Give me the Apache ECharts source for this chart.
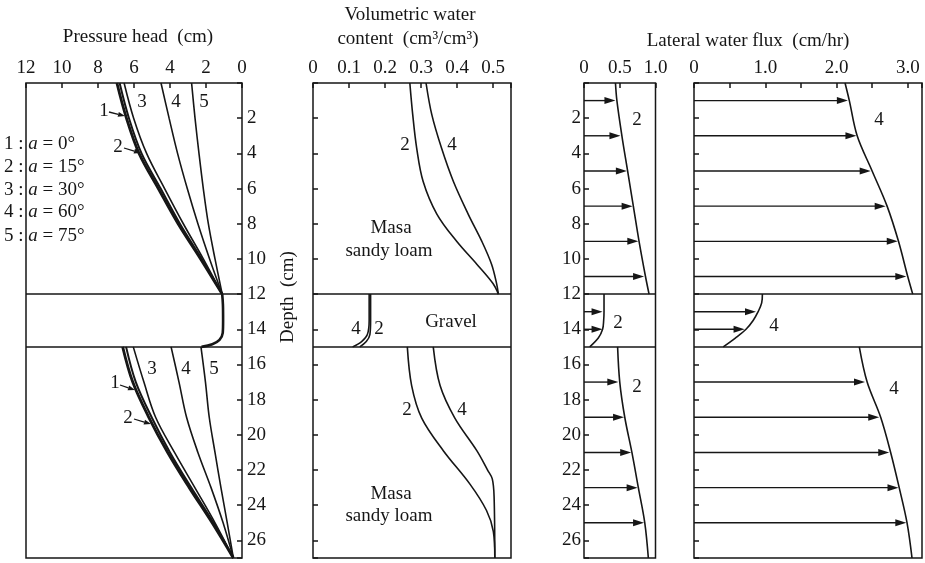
<!DOCTYPE html>
<html>
<head>
<meta charset="utf-8">
<script src="https://cdn.jsdelivr.net/npm/echarts@6/dist/echarts.min.js"></script>
<style>
html, body { margin: 0; background: #fff; }
#chart { width: 925px; height: 563px; }
</style>
</head>
<body>
<div id="chart"></div>
<script>
// pressure head (cm), curves 1..5, read at these depths (cm)
var headDepthTop = [0, 2, 4, 6, 8, 10, 12];
var headTop = [
    [6.95, 6.42, 5.72, 4.65, 3.55, 2.3, 1.1],
    [6.8, 6.28, 5.58, 4.52, 3.45, 2.24, 1.1],
    [6.55, 6.02, 5.3, 4.3, 3.26, 2.15, 1.1],
    [4.5, 4.05, 3.58, 3.04, 2.45, 1.8, 1.1],
    [2.8, 2.61, 2.39, 2.15, 1.87, 1.5, 1.1]
];
var headDepthGravel = [12, 12.6, 13.5, 14.2, 14.6, 14.85, 15];
var headGravel = [1.1, 1.06, 1.05, 1.07, 1.25, 1.65, 2.25];
var headDepthBottom = [15, 17, 19, 21, 23, 25, 27];
var headBottom = [
    [6.63, 6.07, 5.18, 4.13, 2.93, 1.66, 0.48],
    [6.44, 5.9, 5.02, 4.0, 2.82, 1.58, 0.48],
    [6.04, 5.45, 4.8, 3.75, 2.62, 1.5, 0.48],
    [3.94, 3.5, 3.08, 2.45, 1.72, 1.05, 0.48],
    [2.28, 2.03, 1.82, 1.5, 1.17, 0.82, 0.48]
];

// volumetric water content, curves 2 and 4
var thetaDepthTop = [0, 1.8, 3.7, 5.6, 7.45, 9.0, 10.3, 11.4, 12];
var theta2Top = [0.269, 0.277, 0.288, 0.306, 0.344, 0.399, 0.455, 0.5, 0.515];
var theta4Top = [0.314, 0.33, 0.357, 0.39, 0.431, 0.469, 0.496, 0.51, 0.515];
var thetaDepthGravel = [12, 13.5, 14.3, 14.7, 15];
var theta2Gravel = [0.16, 0.16, 0.158, 0.148, 0.13];
var theta4Gravel = [0.156, 0.156, 0.151, 0.135, 0.11];
var theta2DepthBottom = [15, 17.2, 19.05, 20.9, 22.8, 24.3, 25.5, 27];
var theta2Bottom = [0.262, 0.274, 0.302, 0.362, 0.436, 0.482, 0.501, 0.505];
var theta4DepthBottom = [15, 17.2, 19.05, 20.9, 22.0, 22.5, 23.5, 27];
var theta4Bottom = [0.334, 0.353, 0.394, 0.455, 0.485, 0.498, 0.503, 0.505];

// lateral water flux (cm/hr), curves 2 and 4
var fluxDepthTop = [0, 1, 3, 5, 7, 9, 11, 12];
var flux2Top = [0.44, 0.46, 0.53, 0.61, 0.69, 0.77, 0.86, 0.91];
var flux4Top = [2.12, 2.18, 2.29, 2.5, 2.71, 2.87, 3.0, 3.07];
var fluxDepthGravel = [12, 12.5, 13, 13.5, 14, 14.5, 15];
var flux2Gravel = [0.28, 0.28, 0.28, 0.275, 0.26, 0.2, 0.08];
var flux4Gravel = [0.96, 0.95, 0.9, 0.83, 0.73, 0.58, 0.41];
var fluxDepthBottom = [15, 17, 19, 21, 23, 25, 27];
var flux2Bottom = [0.47, 0.5, 0.57, 0.67, 0.76, 0.85, 0.9];
var flux4Bottom = [2.32, 2.43, 2.62, 2.76, 2.88, 2.99, 3.06];

// flux arrows
var arrowDepths = [1, 3, 5, 7, 9, 11, 13, 14, 17, 19, 21, 23, 25];
var arrow2 = [0.44, 0.51, 0.6, 0.68, 0.76, 0.84, 0.26, 0.26, 0.48, 0.56, 0.66, 0.75, 0.84];
var arrow4 = [2.16, 2.28, 2.48, 2.69, 2.86, 2.98, 0.87, 0.71, 2.4, 2.6, 2.74, 2.87, 2.98];

var ink = '#161616';
var serif = '"Liberation Serif", "DejaVu Serif", serif';

var chart = echarts.init(document.getElementById('chart'));

function pairs(depths, values) {
    return depths.map(function (d, i) { return [values[i], d]; });
}

function curve(g, depths, values, width) {
    return {
        type: 'line',
        xAxisIndex: g,
        yAxisIndex: g,
        data: pairs(depths, values),
        symbol: 'none',
        smooth: 0.35,
        lineStyle: { color: ink, width: width || 1.6 },
        silent: true,
        animation: false
    };
}

// horizontal lines of the gravel layer
function layers(g) {
    return {
        type: 'line',
        xAxisIndex: g,
        yAxisIndex: g,
        data: [],
        markLine: {
            silent: true,
            animation: false,
            symbol: 'none',
            label: { show: false },
            lineStyle: { color: ink, width: 1.5, type: 'solid' },
            data: [{ yAxis: 12 }, { yAxis: 15 }]
        }
    };
}

function arrows(g, depths, values) {
    return {
        type: 'custom',
        xAxisIndex: g,
        yAxisIndex: g,
        silent: true,
        animation: false,
        data: pairs(depths, values),
        renderItem: function (params, api) {
            var a = api.coord([0, api.value(1)]);
            var b = api.coord([api.value(0), api.value(1)]);
            return {
                type: 'group',
                children: [
                    { type: 'line', shape: { x1: a[0], y1: a[1], x2: b[0] - 8, y2: b[1] }, style: { stroke: ink, lineWidth: 1.4 } },
                    { type: 'polygon', shape: { points: [[b[0], b[1]], [b[0] - 11, b[1] - 3.5], [b[0] - 11, b[1] + 3.5]] }, style: { fill: ink } }
                ]
            };
        }
    };
}

function xAxis(g, max, interval, fmt, inverse) {
    return {
        gridIndex: g,
        type: 'value',
        position: 'top',
        min: 0,
        max: max,
        interval: interval,
        inverse: !!inverse,
        axisLine: { show: false },
        axisTick: { inside: true, length: 5, lineStyle: { color: ink, width: 1.5 } },
        axisLabel: { formatter: fmt, margin: 5, color: ink, fontFamily: serif, fontSize: 19 },
        splitLine: { show: false }
    };
}

function depthLabel(v) {
    return (v > 0 && v % 2 === 0) ? String(v) : '';
}

function yAxis(g, position, showLabel) {
    return {
        gridIndex: g,
        type: 'value',
        position: position,
        min: 0,
        max: 27,
        interval: 2,
        inverse: true,
        axisLine: { show: false },
        axisTick: { inside: true, length: 5, lineStyle: { color: ink, width: 1.5 } },
        axisLabel: { show: showLabel, formatter: depthLabel, margin: position === 'right' ? 5 : 3, color: ink, fontFamily: serif, fontSize: 19 },
        splitLine: { show: false }
    };
}

function txt(x, y, s, size, align) {
    return {
        type: 'text', x: x, y: y, silent: true,
        style: {
            text: s, fill: ink, font: (size || 18) + 'px ' + serif,
            align: align || 'center', verticalAlign: 'middle'
        }
    };
}

function pointer(x1, y1, x2, y2) {
    var ang = Math.atan2(y2 - y1, x2 - x1);
    var L = 7, W = 2.5;
    var bx = x2 - L * Math.cos(ang), by = y2 - L * Math.sin(ang);
    return [
        { type: 'line', silent: true, shape: { x1: x1, y1: y1, x2: bx, y2: by }, style: { stroke: ink, lineWidth: 1.3 } },
        { type: 'polygon', silent: true, shape: { points: [[x2, y2], [bx - W * Math.sin(ang), by + W * Math.cos(ang)], [bx + W * Math.sin(ang), by - W * Math.cos(ang)]] }, style: { fill: ink } }
    ];
}

var legendRows = ['1 : {i|a} = 0°', '2 : {i|a} = 15°', '3 : {i|a} = 30°', '4 : {i|a} = 60°', '5 : {i|a} = 75°'];

var series = [];
var widths = [2.8, 2, 1.6, 1.6, 1.6];
headTop.forEach(function (vals, i) { series.push(curve(0, headDepthTop, vals, widths[i])); });
series.push(curve(0, headDepthGravel, headGravel, 2.6));
headBottom.forEach(function (vals, i) { series.push(curve(0, headDepthBottom, vals, widths[i])); });
series.push(layers(0));

series.push(curve(1, thetaDepthTop, theta2Top));
series.push(curve(1, thetaDepthTop, theta4Top));
series.push(curve(1, thetaDepthGravel, theta2Gravel));
series.push(curve(1, thetaDepthGravel, theta4Gravel));
series.push(curve(1, theta2DepthBottom, theta2Bottom));
series.push(curve(1, theta4DepthBottom, theta4Bottom));
series.push(layers(1));

series.push(curve(2, fluxDepthTop, flux2Top));
series.push(curve(2, fluxDepthGravel, flux2Gravel));
series.push(curve(2, fluxDepthBottom, flux2Bottom));
series.push(arrows(2, arrowDepths, arrow2));
series.push(layers(2));

series.push(curve(3, fluxDepthTop, flux4Top));
series.push(curve(3, fluxDepthGravel, flux4Gravel));
series.push(curve(3, fluxDepthBottom, flux4Bottom));
series.push(arrows(3, arrowDepths, arrow4));
series.push(layers(3));

var graphics = [
    txt(138, 37, 'Pressure head  (cm)', 19),
    txt(410, 15, 'Volumetric water', 19),
    txt(408, 39, 'content  (cm³/cm³)', 19),
    txt(748, 41, 'Lateral water flux  (cm/hr)', 19),
    {
        type: 'text', x: 288, y: 297, rotation: Math.PI / 2, silent: true,
        style: { text: 'Depth  (cm)', fill: ink, font: '19px ' + serif, align: 'center', verticalAlign: 'middle' }
    },
    // curve numbers, pressure head
    txt(104, 111, '1', 19), txt(118, 147, '2', 19),
    txt(142, 102, '3', 19), txt(176, 102, '4', 19), txt(204, 102, '5', 19),
    txt(115, 383, '1', 19), txt(128, 418, '2', 19),
    txt(152, 369, '3', 19), txt(186, 369, '4', 19), txt(214, 369, '5', 19),
    // water content
    txt(405, 145, '2', 19), txt(452, 145, '4', 19),
    txt(391, 228, 'Masa', 19), txt(389, 251, 'sandy loam', 19),
    txt(451, 322, 'Gravel', 19),
    txt(356, 329, '4', 19), txt(379, 329, '2', 19),
    txt(407, 410, '2', 19), txt(462, 410, '4', 19),
    txt(391, 494, 'Masa', 19), txt(389, 516, 'sandy loam', 19),
    // flux
    txt(637, 120, '2', 19), txt(618, 323, '2', 19), txt(637, 387, '2', 19),
    txt(879, 120, '4', 19), txt(774, 326, '4', 19), txt(894, 389, '4', 19)
];
graphics = graphics
    .concat(pointer(109, 112, 125, 116))
    .concat(pointer(124, 148, 141, 153))
    .concat(pointer(120, 385, 135, 390))
    .concat(pointer(134, 419, 151, 424));
legendRows.forEach(function (row, i) {
    graphics.push({
        type: 'text', x: 4, y: [144, 167, 190, 212, 236][i], silent: true,
        style: {
            text: row, fill: ink, font: '19px ' + serif, align: 'left', verticalAlign: 'middle',
            rich: { i: { fontStyle: 'italic', fontFamily: serif, fontSize: 19, fill: ink } }
        }
    });
});

var option = {
    backgroundColor: '#fff',
    animation: false,
    grid: [
        { left: 26, top: 83, width: 216, height: 475, show: true, borderColor: ink, borderWidth: 1.5 },
        { left: 313, top: 83, width: 198, height: 475, show: true, borderColor: ink, borderWidth: 1.5 },
        { left: 584, top: 83, width: 71.5, height: 475, show: true, borderColor: ink, borderWidth: 1.5 },
        { left: 694, top: 83, width: 229.4, height: 475, show: true, borderColor: ink, borderWidth: 1.5 }
    ],
    xAxis: [
        xAxis(0, 12, 2, function (v) { return String(v); }, true),
        xAxis(1, 0.55, 0.1, function (v) { return v === 0 ? '0' : (v > 0.51 ? '' : v.toFixed(1)); }),
        xAxis(2, 1, 0.5, function (v) { return v === 0 ? '0' : v.toFixed(1); }),
        xAxis(3, 3.2, 0.5, function (v) {
            if (v === 0) return '0';
            return Math.abs(v - Math.round(v)) < 1e-6 ? v.toFixed(1) : '';
        })
    ],
    yAxis: [
        yAxis(0, 'right', true),
        yAxis(1, 'left', false),
        yAxis(2, 'left', true),
        yAxis(3, 'left', false)
    ],
    series: series,
    graphic: graphics
};

chart.setOption(option);
</script>
</body>
</html>
